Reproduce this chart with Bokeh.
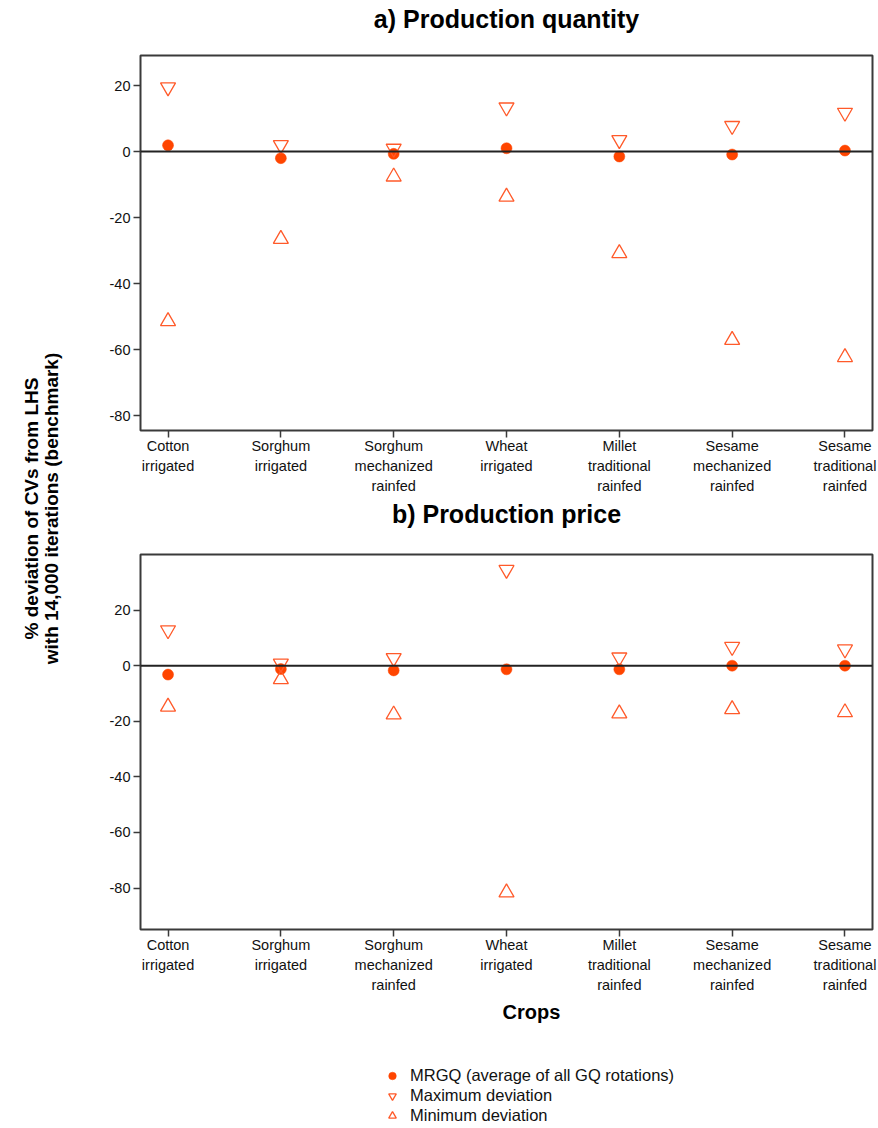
import math
from bokeh.plotting import figure
from bokeh.models import (Range1d, FixedTicker, Span, Label, Legend, LegendItem,
                          ColumnDataSource, NumeralTickFormatter)
from bokeh.layouts import row, column
from bokeh.embed import file_html
from bokeh.resources import INLINE

# ---------------- data ----------------
crops = ["Cotton\nirrigated", "Sorghum\nirrigated", "Sorghum\nmechanized\nrainfed",
         "Wheat\nirrigated", "Millet\ntraditional\nrainfed",
         "Sesame\nmechanized\nrainfed", "Sesame\ntraditional\nrainfed"]

qty_mrgq = [1.9, -2.0, -0.7, 1.0, -1.5, -0.9, 0.3]
qty_max = [19.5, 2.0, 0.9, 13.4, 3.5, 7.8, 11.8]
qty_min = [-51.4, -26.5, -7.6, -13.7, -30.8, -57.1, -62.3]

price_mrgq = [-3.2, -1.2, -1.7, -1.3, -1.3, 0.0, 0.0]
price_max = [12.8, 0.8, 2.8, 34.5, 3.0, 6.8, 5.9]
price_min = [-14.8, -4.9, -17.6, -81.6, -17.2, -15.7, -16.8]

y_ticks = [20, 0, -20, -40, -60, -80]
titles = ["a) Production quantity", "b) Production price"]
x_title = "Crops"
y_title = "% deviation of CVs from LHS\nwith 14,000 iterations (benchmark)"
legend_labels = ["MRGQ (average of all GQ rotations)", "Maximum deviation", "Minimum deviation"]

FONT = "Liberation Sans"
C_DOT = "#FF4500"
C_TRI = "#FF5A2A"
FRAME = "#3a3a3a"
W = 808

marker_styles = [
    dict(marker="circle", size=11, fill_color=C_DOT, line_color=C_DOT, line_width=0.5),
    dict(marker="inverted_triangle", size=15, fill_color=None, line_color=C_TRI, line_width=1.3),
    dict(marker="triangle", size=15, fill_color=None, line_color=C_TRI, line_width=1.3),
]


def blank(width, height, xr=(0, 1)):
    f = figure(width=width, height=height, output_backend="svg", toolbar_location=None,
               x_range=Range1d(*xr), y_range=Range1d(0, 1), x_axis_type=None,
               y_axis_type=None, min_border=0, outline_line_color=None, title=None)
    f.xgrid.visible = False
    f.ygrid.visible = False
    return f


# strips in the column share the panels' frame (left edge at x=140 on the page)
def title_strip(text, height, baseline_from_bottom):
    f = blank(W, height)
    f.add_layout(Label(x=366, y=baseline_from_bottom, x_units="screen", y_units="screen",
                       text=text, text_font=FONT, text_font_size="25px",
                       text_font_style="bold", text_align="center",
                       text_baseline="alphabetic", text_color="#000000"))
    return f


def make_panel(mrgq, mx, mn, yr, height, top, bottom):
    xs = list(range(len(crops)))
    p = figure(width=W, height=height, output_backend="svg", toolbar_location=None,
               title=None,
               x_range=Range1d(-0.244, len(crops) - 1 + 0.244), y_range=Range1d(*yr),
               min_border_left=70, min_border_right=6, min_border_top=top,
               min_border_bottom=bottom)
    p.xgrid.visible = False
    p.ygrid.visible = False
    p.outline_line_color = FRAME
    p.outline_line_width = 2
    p.outline_line_alpha = 1

    p.xaxis.ticker = FixedTicker(ticks=xs)
    p.xaxis.major_label_overrides = {i: c for i, c in zip(xs, crops)}
    p.yaxis.ticker = FixedTicker(ticks=y_ticks)
    p.yaxis.formatter = NumeralTickFormatter(format="0")
    for ax in (p.xaxis, p.yaxis):
        ax.axis_line_color = None
        ax.major_tick_in = 0
        ax.major_tick_out = 7
        ax.major_tick_line_color = FRAME
        ax.major_tick_line_width = 1.5
        ax.minor_tick_line_color = None
        ax.major_label_text_font = FONT
        ax.major_label_text_font_size = "14.5px"
        ax.major_label_text_color = "#111111"
    p.xaxis.major_label_standoff = 0
    p.xaxis.major_label_text_line_height = 1.25
    p.yaxis.major_label_standoff = 3
    p.yaxis.major_label_text_align = "right"
    p.yaxis.major_label_text_baseline = "middle"

    p.add_layout(Span(location=0, dimension="width", line_color="#222222", line_width=2))

    src = ColumnDataSource(dict(x=xs, mrgq=mrgq, mx=mx, mn=mn))
    for col, st in zip(["mrgq", "mx", "mn"], marker_styles):
        p.scatter("x", col, source=src, **st)
    return p, src


t1 = title_strip(titles[0], 54, 36)
p1, _ = make_panel(qty_mrgq, qty_max, qty_min, (-84.5, 29.1), 442, 1, 66)
t2 = title_strip(titles[1], 56, 39)
p2, src2 = make_panel(price_mrgq, price_max, price_min, (-94.9, 40.0), 444, 2, 67)

# bottom strip: x-axis title and legend (its x range shows none of the points)
lf = blank(W, 132, xr=(-3, -2))
lf.add_layout(Label(x=391, y=117, x_units="screen", y_units="screen", text=x_title,
                    text_font=FONT, text_font_size="20px", text_font_style="bold",
                    text_align="center", text_baseline="middle", text_color="#000000"))
leg_renderers = [lf.scatter("x", col, source=src2, **st)
                 for col, st in zip(["mrgq", "mx", "mn"], marker_styles)]
legend = Legend(items=[LegendItem(label=l, renderers=[r])
                       for l, r in zip(legend_labels, leg_renderers)],
                location=(242, 3), padding=0, margin=0, spacing=1,
                glyph_width=20, glyph_height=19, label_height=19, label_standoff=8,
                border_line_color=None, background_fill_alpha=0,
                label_text_font=FONT, label_text_font_size="16.5px",
                label_text_color="#111111")
lf.add_layout(legend, "center")

# left strip with the shared y-axis title
pl = blank(70, 1128)
pl.add_layout(Label(x=41, y=620, x_units="screen", y_units="screen",
                    text=y_title,
                    angle=math.pi / 2, text_font=FONT, text_font_size="19px",
                    text_font_style="bold", text_align="center", text_baseline="middle",
                    text_line_height=0.95, text_color="#000000"))

layout = row(pl, column(t1, p1, t2, p2, lf))
open("out.html", "w").write(file_html(layout, INLINE))
